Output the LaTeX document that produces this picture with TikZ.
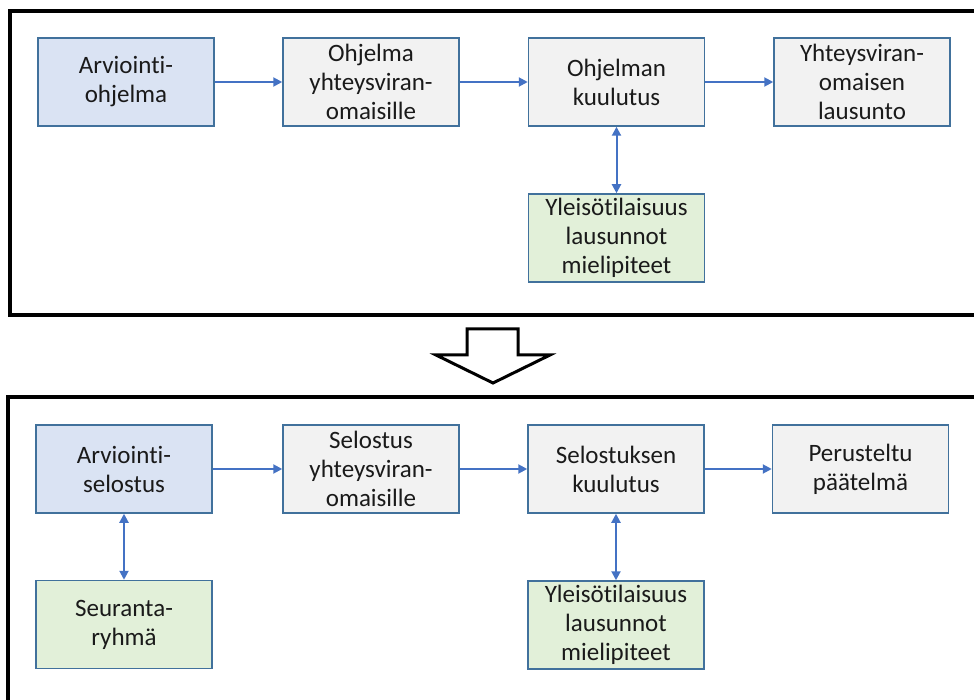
\documentclass[tikz,border=0pt]{standalone}
\usepackage{fontspec}
\setmainfont{Carlito}[Ligatures={NoCommon,NoRequired,NoContextual}]
\usetikzlibrary{arrows.meta}
\definecolor{bluefill}{HTML}{DAE3F3}
\definecolor{grayfill}{HTML}{F2F2F2}
\definecolor{greenfill}{HTML}{E2F0D9}
\definecolor{edgeblue}{HTML}{41719C}
\definecolor{arrowblue}{HTML}{4472C4}
\definecolor{txt}{HTML}{1A1A1A}
\newcommand{\tix}{t\kern0pt i}
\tikzset{
  box/.style={draw=edgeblue, line width=1.5pt, minimum width=176pt, minimum height=88pt,
    inner sep=0pt, align=center, text=txt,
    font=\fontsize{25}{29}\selectfont},
  bluebox/.style={box, fill=bluefill},
  graybox/.style={box, fill=grayfill},
  greenbox/.style={box, fill=greenfill},
  conn/.style={draw=arrowblue, line width=2pt, -{Triangle[length=9pt,width=9pt]}},
  dconn/.style={draw=arrowblue, line width=2pt, {Triangle[length=9pt,width=9pt]}-{Triangle[length=9pt,width=9pt]}},
  frame/.style={draw=black, line width=4pt},
  bigarrow/.style={draw=black, fill=white, line width=3pt, line join=miter}
}
\begin{document}
\begin{tikzpicture}[x=1pt,y=-1pt]
\useasboundingbox (0,0) rectangle (974,700);
\clip (0,0) rectangle (974,700);
\fill[white] (0,0) rectangle (974,700);
% frames
\draw[frame] (10,11) rectangle (995,315);
\draw[frame] (8,397) rectangle (995,730);
% big arrow
\draw[bigarrow] (467,329) -- (518,329) -- (518,355) -- (550,355) -- (493,383) -- (436,355) -- (467,355) -- cycle;
% top row
\node[bluebox] (a1) at (126,82) {Arvioin\tix-\\ohjelma};
\node[graybox] (a2) at (371,82) {Ohjelma\\yhteysviran-\\omaisille};
\node[graybox] (a3) at (616.5,82) {Ohjelman\\kuulutus};
\node[graybox] (a4) at (862,82) {Yhteysviran-\\omaisen\\lausunto};
\node[greenbox] (a5) at (616.5,238) {Yleisö\tix laisuus\\lausunnot\\mielipiteet};
\draw[conn] (a1) -- (a2);
\draw[conn] (a2) -- (a3);
\draw[conn] (a3) -- (a4);
\draw[dconn] (a3) -- (a5);
% bottom row
\node[bluebox] (b1) at (124,469) {Arvioin\tix-\\selostus};
\node[graybox] (b2) at (371,469) {Selostus\\yhteysviran-\\omaisille};
\node[graybox] (b3) at (616,469) {Selostuksen\\kuulutus};
\node[graybox] (b4) at (860.5,469) {Perusteltu\\päätelmä};
\node[greenbox] (b5) at (124,624.5) {Seuranta-\\ryhmä};
\node[greenbox] (b6) at (616,625) {Yleisö\tix laisuus\\lausunnot\\mielipiteet};
\draw[conn] (b1) -- (b2);
\draw[conn] (b2) -- (b3);
\draw[conn] (b3) -- (b4);
\draw[dconn] (b1) -- (b5);
\draw[dconn] (b3) -- (b6);
\end{tikzpicture}
\end{document}
